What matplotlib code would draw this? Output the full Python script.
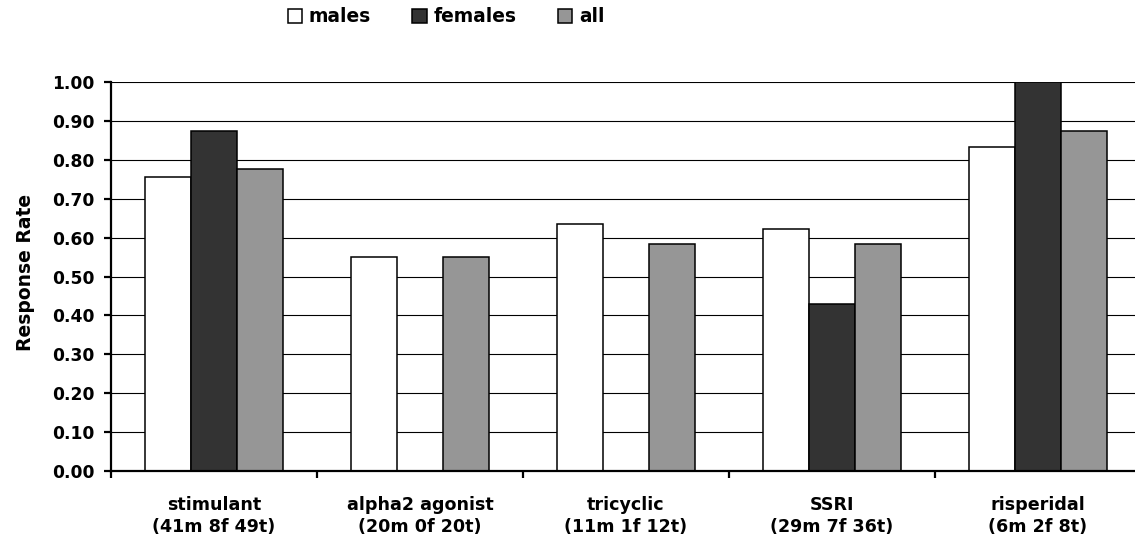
import numpy as np
import matplotlib
matplotlib.use("Agg")
import matplotlib.pyplot as plt
from matplotlib.ticker import FixedLocator, FormatStrFormatter

# data
categories = ["stimulant\n(41m 8f 49t)", "alpha2 agonist\n(20m 0f 20t)",
              "tricyclic\n(11m 1f 12t)", "SSRI\n(29m 7f 36t)",
              "risperidal\n(6m 2f 8t)"]
males = [0.756, 0.550, 0.636, 0.621, 0.833]
females = [0.875, np.nan, 0.0, 0.429, 1.000]  # no females on alpha2
all_pts = [0.776, 0.550, 0.583, 0.583, 0.875]
series_names = ["males", "females", "all"]
series_colors = ["#ffffff", "#333333", "#969696"]

plt.rcParams["font.family"] = ["DejaVu Sans"]
plt.rcParams["font.weight"] = "bold"

fig = plt.figure(figsize=(11.35, 5.42), dpi=100)
ax = fig.add_axes([111 / 1135, 1 - 471 / 542, 1030 / 1135, 389 / 542])

x = np.arange(len(categories))
w = 1 / 4.5
for i, (vals, name, col) in enumerate(zip([males, females, all_pts], series_names, series_colors)):
    ax.bar(x + (i - 1) * w, vals, w, color=col, edgecolor="black", linewidth=1.1,
           label=name, zorder=3)

ax.set_xlim(-0.5, len(categories) - 0.5)
ax.set_ylim(0, 1.0)
ax.set_yticks(np.arange(0, 1.01, 0.1))
ax.yaxis.set_major_formatter(FormatStrFormatter("%.2f"))
ax.grid(axis="y", color="black", linewidth=0.8, zorder=0)

# category boundaries get the tick marks, centres get the labels
ax.xaxis.set_major_locator(FixedLocator(np.arange(-0.5, len(categories), 1.0)))
ax.xaxis.set_minor_locator(FixedLocator(x))
ax.set_xticklabels([], minor=False)
ax.set_xticklabels(categories, minor=True, fontsize=12.6, fontweight="bold",
                   linespacing=1.25)
ax.tick_params(axis="x", which="minor", length=0, pad=18)
ax.tick_params(axis="x", which="major", length=5, width=1.6, direction="out")
ax.tick_params(axis="y", length=5, width=1.6, direction="out", pad=7,
               labelsize=12.3)
for lab in ax.get_yticklabels():
    lab.set_fontweight("bold")

for s in ["top", "right"]:
    ax.spines[s].set_visible(False)
for s in ["left", "bottom"]:
    ax.spines[s].set_linewidth(1.6)
    ax.spines[s].set_zorder(4)

ax.set_ylabel("Response Rate", fontsize=13.5, fontweight="bold")
ax.yaxis.set_label_coords(-0.074, 0.51)

fig.legend(loc="center", bbox_to_anchor=(446 / 1135, 1 - 17 / 542), ncol=3,
           frameon=False, prop={"size": 13.4, "weight": "bold"},
           handlelength=0.8, handleheight=0.8, handletextpad=0.35,
           columnspacing=2.2, borderaxespad=0, borderpad=0)

fig.savefig("out.png", dpi=100)
